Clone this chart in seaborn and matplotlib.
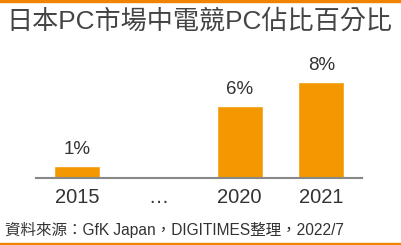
import numpy as np
import pandas as pd
import matplotlib
matplotlib.use("Agg")
import matplotlib.pyplot as plt
import seaborn as sns

categories = ['2015', '…', '2020', '2021']
values = [1, np.nan, 6, 8]
value_labels = ['1%', '', '6%', '8%']

title = '日本PC市場中電競PC佔比百分比'
source = '資料來源：GfK Japan，DIGITIMES整理，2022/7'

sns.set_style('white')
plt.rcParams['font.family'] = ['Liberation Sans', 'Noto Sans CJK TC']

df = pd.DataFrame({'year': categories, 'share': values})

fig = plt.figure(figsize=(4.01, 2.45), dpi=100)
ax = fig.add_axes([36 / 401, 67 / 245, 326 / 401, 120 / 245])

sns.barplot(data=df, x='year', y='share', order=categories, color='#f39800',
            saturation=1, width=0.57, ax=ax)

# value labels above the bars (skip the empty "…" slot)
shown = [l for l, v in zip(value_labels, values) if not np.isnan(v)]
for cont in ax.containers:
    labs = shown if len(cont) == len(shown) else value_labels
    ax.bar_label(cont, labels=labs, padding=6, fontsize=13.5, color='#333333')

ax.set_ylim(0, 10)
ax.set_xlim(-0.5, 3.5)
ax.set_xlabel('')
ax.set_ylabel('')
ax.set_yticks([])
for s in ['top', 'left', 'right']:
    ax.spines[s].set_visible(False)
ax.spines['bottom'].set_color('#888888')
ax.spines['bottom'].set_linewidth(1.5)

ax.set_xticks(range(len(categories)))
ax.set_xticklabels(categories, fontsize=14.5, color='#333333')
ax.tick_params(axis='x', which='major', length=0, pad=7)
ax.set_xticks(np.arange(-0.5, len(categories), 1.0), minor=True)
ax.tick_params(axis='x', which='minor', length=4, width=1.2, color='#888888', direction='out')

fig.text(6 / 401, 1 - 21 / 245, title, fontsize=18.8, color='#444444', va='center', ha='left')
fig.text(5 / 401, 1 - 230 / 245, source, fontsize=11.2, color='#333333', va='center', ha='left')

# orange rules at top and bottom
fig.add_artist(plt.Rectangle((0, 1 - 2.5 / 245), 1, 2.5 / 245, color='#f08300', transform=fig.transFigure))
fig.add_artist(plt.Rectangle((0, 0), 1, 2 / 245, color='#f08300', transform=fig.transFigure))

fig.savefig('out.png', dpi=100)
